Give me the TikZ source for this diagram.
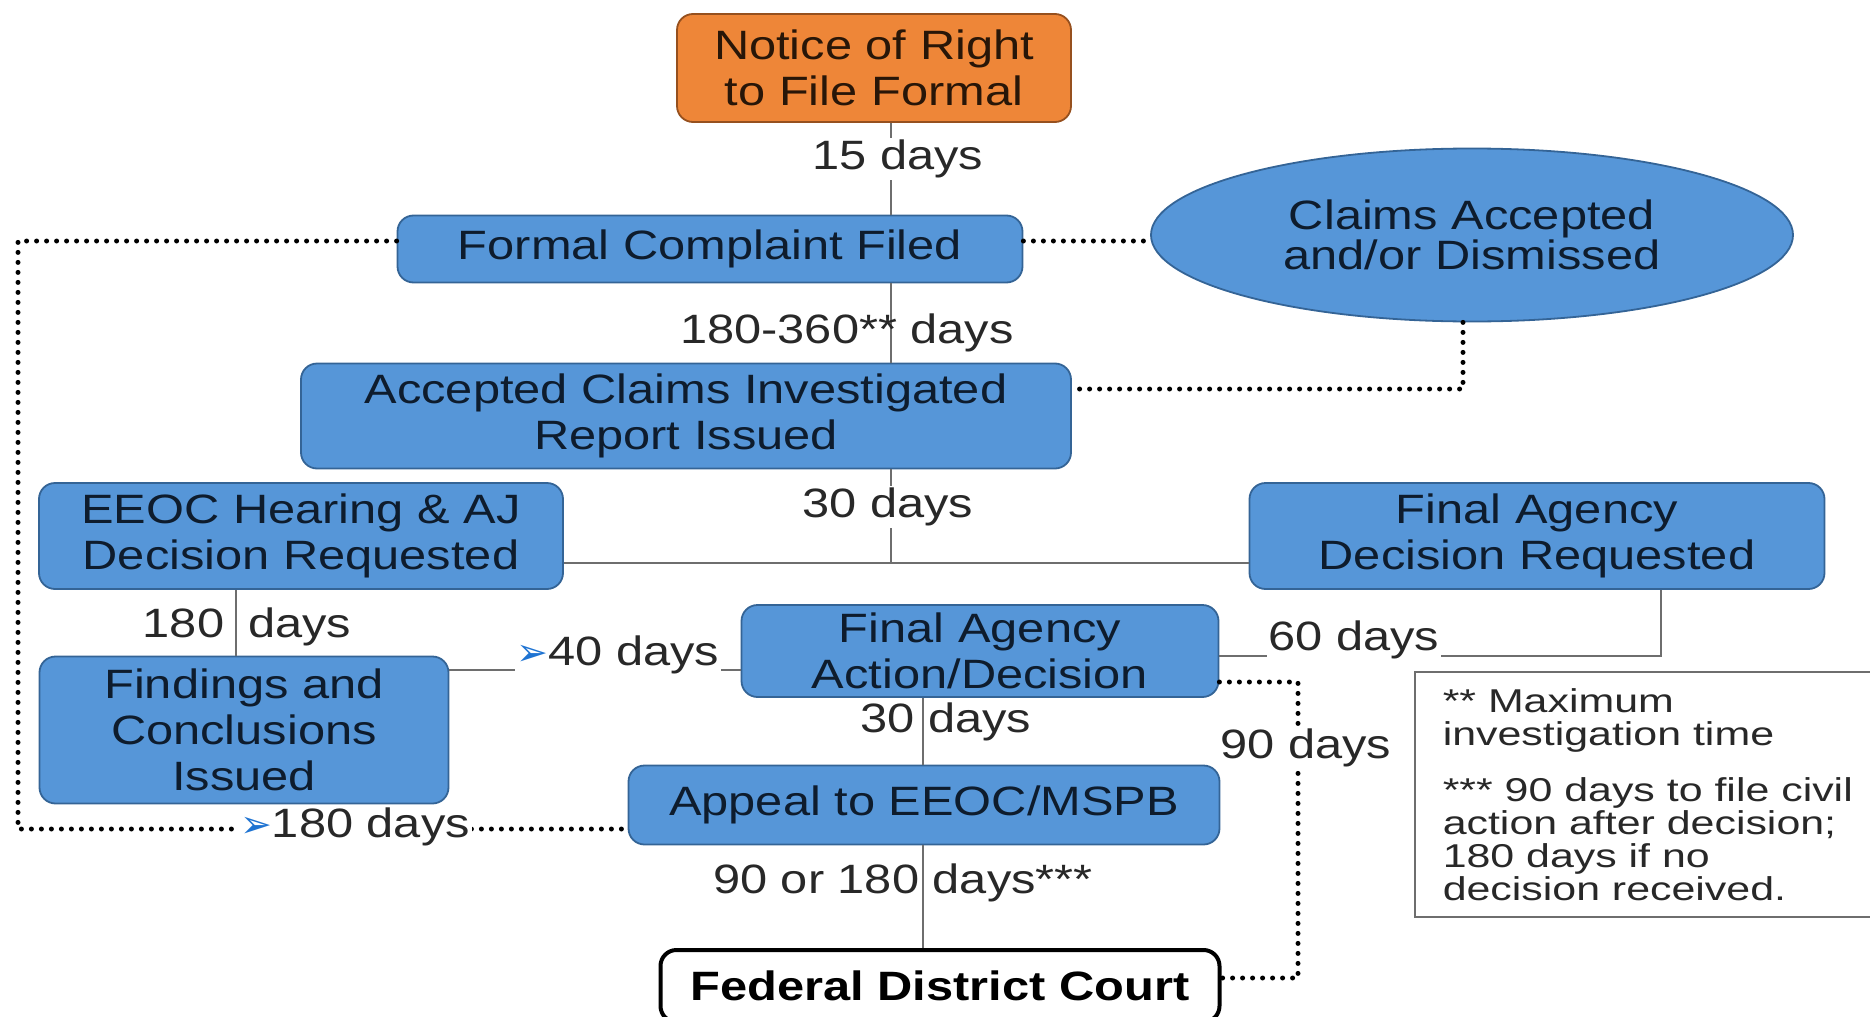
\documentclass[tikz,border=0pt]{standalone}
\usepackage{fontspec}
\setmainfont{Liberation Sans}[FakeStretch=1.19]
\newfontfamily\notefont{Liberation Sans}[FakeStretch=1.3]
\newfontfamily\symfont{DejaVu Sans}
\usetikzlibrary{shapes.geometric}
\definecolor{boxblue}{RGB}{86,150,216}
\definecolor{boxedge}{RGB}{52,100,150}
\definecolor{orangefill}{RGB}{238,134,56}
\definecolor{orangeedge}{RGB}{150,80,30}
\definecolor{txt}{RGB}{14,28,45}
\definecolor{labtxt}{RGB}{40,40,40}
\definecolor{conn}{RGB}{110,110,110}
\definecolor{arrowblue}{RGB}{30,115,210}
\newcommand{\bluearr}{{\symfont\color{arrowblue}\fontsize{19}{19}\selectfont ➢}}
\begin{document}
\begin{tikzpicture}[x=0.5pt,y=-0.5pt,
  mainfont/.style={font=\fontsize{20.5}{23}\selectfont},
  bluebox/.style={draw=boxedge, line width=0.9pt, fill=boxblue, rounded corners=8pt,
    align=center, text=txt, inner sep=0pt, mainfont},
  orangebox/.style={bluebox, draw=orangeedge, fill=orangefill, text={rgb,255:red,40;green,22;blue,8}},
  courtbox/.style={draw=black, line width=2pt, fill=white, rounded corners=8pt,
    align=center, text=black, inner sep=0pt, font=\fontsize{20.5}{23}\selectfont\bfseries},
  ellbox/.style={ellipse, draw=boxedge, line width=0.9pt, fill=boxblue, align=center,
    text=txt, inner sep=0pt, font=\fontsize{20.5}{18.5}\selectfont},
  lab/.style={mainfont, text=labtxt, inner sep=1pt},
  wlab/.style={lab, fill=white},
  conline/.style={draw=conn, line width=1.1pt},
  dotline/.style={draw=black, line width=2.5pt, line cap=round, dash pattern=on 0pt off 5pt},
  notebox/.style={draw=conn, line width=0.8pt, fill=white, align=left, text=labtxt,
    inner xsep=8pt, inner ysep=0pt, anchor=north west,
    font=\notefont\fontsize{16.5}{16.5}\selectfont}
]
\useasboundingbox (0,0) rectangle (1870,1017);

% nodes
\node[orangebox, minimum width=197pt, minimum height=54pt] (notice) at (874,68) {Notice of Right\\to File Formal};
\node[bluebox, minimum width=312.5pt, minimum height=33.5pt] (formal) at (710,249) {\raisebox{3pt}{Formal Complaint Filed}};
\node[ellbox, minimum width=321pt, minimum height=86.5pt] (claims) at (1472,235) {Claims Accepted\\and/or Dismissed};
\node[bluebox, minimum width=385pt, minimum height=52.5pt] (accepted) at (686,416) {Accepted Claims Investigated\\Report Issued};
\node[bluebox, minimum width=262pt, minimum height=53pt] (eeoc) at (301,536) {EEOC Hearing \& AJ\\Decision Requested};
\node[bluebox, minimum width=287.5pt, minimum height=53pt] (fadr) at (1537,536) {Final Agency\\Decision Requested};
\node[bluebox, minimum width=204.5pt, minimum height=73.5pt] (findings) at (244,730) {Findings and\\Conclusions\\Issued};
\node[bluebox, minimum width=238.5pt, minimum height=46pt] (faad) at (980,651) {Final Agency\\Action/Decision};
\node[bluebox, minimum width=295.5pt, minimum height=39.5pt] (appeal) at (924,805) {Appeal to EEOC/MSPB};
\node[courtbox, minimum width=279.5pt, minimum height=36pt] (court) at (940,986) {Federal District Court};
\node[notebox, minimum width=233pt, minimum height=122.5pt] (note) at (1414,671)
  {** Maximum\\investigation time\\[11.5pt]*** 90 days to file civil\\action after decision;\\180 days if no\\decision received.};

% helper coordinates
\coordinate (v1) at (891,0);
\coordinate (v2) at (923,0);
\coordinate (vE) at (236,0);
\coordinate (hj) at (891,563);
\coordinate (k40) at (0,670);
\coordinate (k60) at (1661,656);
\coordinate (d90) at (1298,682);
\coordinate (d90b) at (1298,978);
\coordinate (cj) at (1463,389);
\coordinate (fy) at (0,241);
\coordinate (lp1) at (18,241);
\coordinate (lp2) at (18,829);

% solid connectors
\draw[conline] (notice.south -| v1) -- (formal.north -| v1);
\draw[conline] (formal.south -| v1) -- (accepted.north -| v1);
\draw[conline] (accepted.south -| v1) -- (hj);
\draw[conline] (eeoc.east |- hj) -- (fadr.west |- hj);
\draw[conline] (eeoc.south -| vE) -- (findings.north -| vE);
\draw[conline] (findings.east |- k40) -- (faad.west |- k40);
\draw[conline] (fadr.south -| k60) -- (k60) -- (faad.east |- k60);
\draw[conline] (faad.south -| v2) -- (appeal.north -| v2);
\draw[conline] (appeal.south -| v2) -- (court.north -| v2);

% dotted connectors
\draw[dotline] (formal.east |- fy) -- (claims.west |- fy);
\draw[dotline] (claims.south -| cj) -- (cj) -- (accepted.east |- cj);
\draw[dotline] (formal.west |- fy) -- (lp1) -- (lp2) -- (appeal.west |- lp2);
\draw[dotline] (faad.east |- d90) -- (d90) -- (d90b) -- (court.east |- d90b);

% labels
\node[wlab] (l15) at (898,159) {15 days};
\node[lab] (l180360) at (847,333) {180-360** days};
\node[wlab] (l30a) at (888,507) {30 days};
\node[lab] (l180a) at (247,627) {180\hspace{12pt}days};
\node[wlab] (l40) at (618,655) {\bluearr40 days};
\node[wlab] (l60) at (1354,640) {60 days};
\node[lab] (l30b) at (946,722) {30 days};
\node[wlab] (l90) at (1306,748) {90 days};
\node[lab] (l90180) at (903,883) {90 or 180 days***};
\node[wlab] (l180b) at (355,827) {\bluearr180 days};
\end{tikzpicture}
\end{document}
